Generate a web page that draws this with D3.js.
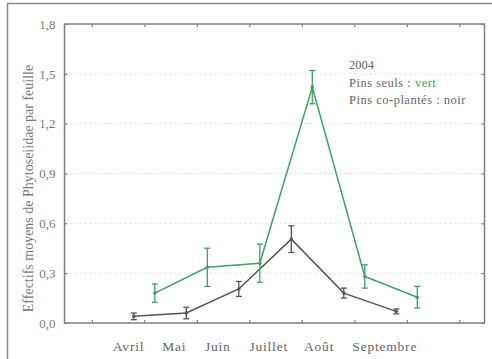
<!DOCTYPE html>
<html>
<head>
<meta charset="utf-8">
<script src="https://cdn.jsdelivr.net/npm/d3@7"></script>
<style>
  html, body { margin: 0; padding: 0; background: #fff; }
  svg { display: block; }
  svg text { font-family: "Liberation Serif", "Times New Roman", "DejaVu Serif", serif !important; }
</style>
</head>
<body>
<script>
// Sampling times (in months from the first tick) and mean counts per leaf
const blackX = [0.8, 1.8, 2.8, 3.8, 4.8, 5.8];
const blackY = [0.04, 0.06, 0.205, 0.505, 0.18, 0.07];
const blackErr = [0.02, 0.035, 0.045, 0.08, 0.03, 0.015];

const greenX = [1.2, 2.2, 3.2, 4.2, 5.2, 6.2];
const greenY = [0.18, 0.335, 0.36, 1.42, 0.28, 0.155];
const greenErr = [0.055, 0.115, 0.115, 0.10, 0.07, 0.065];

const yTicks = [0, 0.3, 0.6, 0.9, 1.2, 1.5, 1.8];
const xTicks = [0, 1, 2, 3, 4, 5, 6, 7];
const monthNames = ["Avril", "Mai", "Juin", "Juillet", "Août", "Septembre"];
const monthPos = [0.7, 1.57, 2.4, 3.37, 4.33, 5.58];
const gridLevels = [0.3, 0.6, 0.9, 1.2, 1.5];

const W = 492, H = 359;
const plot = { left: 64.5, right: 484.5, top: 24, bottom: 323 };
const GREEN = "#3aa464";
const DARK = "#555";
const AXIS = "#808080";
const SERIF = "'Liberation Serif', 'Times New Roman', 'DejaVu Serif', serif";

const svg = d3.select("body").append("svg").attr("width", W).attr("height", H)
  .style("font-family", SERIF);

// outer frame
svg.append("rect")
  .attr("x", 7.5).attr("y", 3.5).attr("width", W + 10).attr("height", H + 10)
  .attr("fill", "none").attr("stroke", "#8a8a8a").attr("stroke-width", 1.5);

const x = d3.scaleLinear().domain([-0.52, 7.48]).range([plot.left, plot.right]);
const y = d3.scaleLinear().domain([0, 1.8]).range([plot.bottom, plot.top]);

// faint dotted grid
svg.append("g").selectAll("line").data(gridLevels).join("line")
  .attr("x1", plot.left).attr("x2", plot.right)
  .attr("y1", d => y(d)).attr("y2", d => y(d))
  .attr("stroke", "#dedede").attr("stroke-width", 1)
  .attr("stroke-dasharray", "2,3");

// axes (ticks drawn inward on all four sides)
const axStyle = g => {
  g.attr("font-family", null);
  g.select(".domain").remove();
  g.selectAll(".tick line").attr("stroke", AXIS).attr("stroke-width", 1.2);
};
svg.append("g").attr("transform", `translate(0,${plot.bottom})`)
  .call(d3.axisBottom(x).tickValues(xTicks).tickSize(-3).tickFormat(""))
  .call(axStyle);
svg.append("g").attr("transform", `translate(0,${plot.top})`)
  .call(d3.axisTop(x).tickValues(xTicks).tickSize(-3).tickFormat(""))
  .call(axStyle);
svg.append("g").attr("transform", `translate(${plot.left},0)`)
  .call(d3.axisLeft(y).tickValues(yTicks).tickSize(-3).tickPadding(9)
    .tickFormat(d => d3.format(".1f")(d).replace(".", ",")))
  .call(axStyle)
  .call(g => g.selectAll(".tick text")
    .attr("fill", "#7a7a7a").attr("font-size", 13)
    .style("font-family", SERIF));
svg.append("g").attr("transform", `translate(${plot.right},0)`)
  .call(d3.axisRight(y).tickValues(yTicks).tickSize(-3).tickFormat(""))
  .call(axStyle);

svg.append("rect")
  .attr("x", plot.left).attr("y", plot.top)
  .attr("width", plot.right - plot.left).attr("height", plot.bottom - plot.top)
  .attr("fill", "none").attr("stroke", AXIS).attr("stroke-width", 1.5);

// series
function drawSeries(xs, ys, errs, color) {
  const pts = xs.map((v, i) => ({ x: v, y: ys[i], e: errs[i] }));
  const g = svg.append("g");
  g.append("path")
    .attr("d", d3.line().x(d => x(d.x)).y(d => y(d.y))(pts))
    .attr("fill", "none").attr("stroke", color).attr("stroke-width", 1.5);
  const eb = g.selectAll("g.err").data(pts).join("g").attr("class", "err");
  eb.append("line")
    .attr("x1", d => x(d.x)).attr("x2", d => x(d.x))
    .attr("y1", d => y(d.y - d.e)).attr("y2", d => y(d.y + d.e))
    .attr("stroke", color).attr("stroke-width", 1.3);
  [-1, 1].forEach(s => {
    eb.append("line")
      .attr("x1", d => x(d.x) - 3).attr("x2", d => x(d.x) + 3)
      .attr("y1", d => y(d.y + s * d.e)).attr("y2", d => y(d.y + s * d.e))
      .attr("stroke", color).attr("stroke-width", 1.3);
  });
  eb.append("circle")
    .attr("cx", d => x(d.x)).attr("cy", d => y(d.y)).attr("r", 1.8)
    .attr("fill", color);
}
drawSeries(blackX, blackY, blackErr, DARK);
drawSeries(greenX, greenY, greenErr, GREEN);

// month labels
svg.append("g").selectAll("text").data(monthNames).join("text")
  .attr("x", (d, i) => x(monthPos[i])).attr("y", 351)
  .attr("text-anchor", "middle").attr("font-size", 13.5)
  .attr("letter-spacing", 0.8)
  .attr("fill", "#666").text(d => d);

// y axis title
svg.append("text")
  .attr("transform", `translate(33,${(plot.top + plot.bottom) / 2 + 15}) rotate(-90)`)
  .attr("text-anchor", "middle").attr("font-size", 14)
  .attr("fill", "#7a7a7a")
  .text("Effectifs moyens de Phytoseiidae par feuille");

// legend text
const leg = svg.append("g").attr("font-size", 12.5).attr("fill", "#666");
leg.append("text").attr("x", 349).attr("y", 69).text("2004");
const l2 = leg.append("text").attr("x", 349).attr("y", 87).attr("letter-spacing", 0.5);
l2.append("tspan").text("Pins seuls :  ");
l2.append("tspan").attr("fill", GREEN).text("vert");
leg.append("text").attr("x", 349).attr("y", 104).attr("letter-spacing", 0.5)
  .text("Pins co-plantés : noir");
</script>
</body>
</html>
